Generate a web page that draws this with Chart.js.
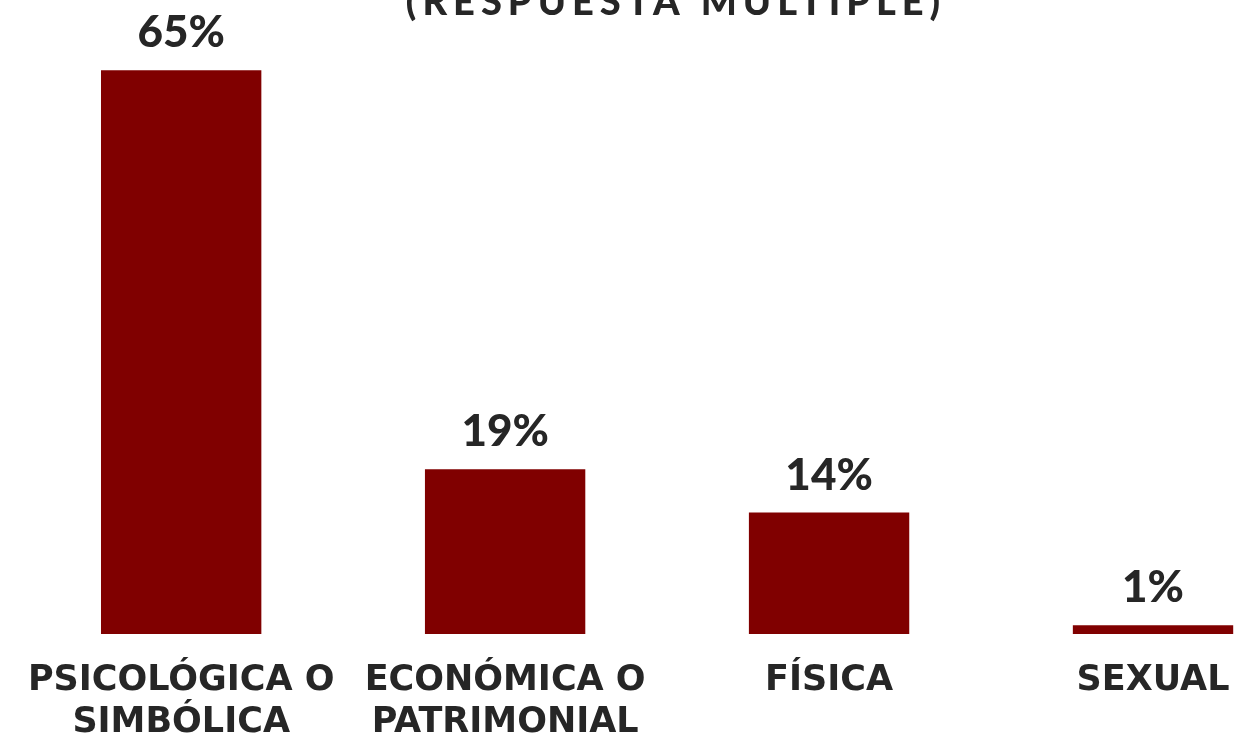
<!DOCTYPE html>
<html>
<head>
<meta charset="utf-8">
<script src="https://cdn.jsdelivr.net/npm/chart.js@4/dist/chart.umd.min.js"></script>
<style>
html,body{margin:0;padding:0;overflow:hidden;background:#fff;width:1243px;height:737px;}
#wrap{position:absolute;left:0;top:0;width:1320px;height:770px;}
</style>
</head>
<body>
<div id="wrap"><canvas id="c" width="1320" height="770"></canvas></div>
<script>
const titleText = "(RESPUESTA MÚLTIPLE)";
const categories = [["PSICOLÓGICA O","SIMBÓLICA"],["ECONÓMICA O","PATRIMONIAL"],"FÍSICA","SEXUAL"];
const values = [65, 19, 14, 1];
const barColor = "#800000";
const textColor = "#262626";
const fontFamily = "Lato, 'Open Sans', sans-serif";
const labelFamily = "'DejaVu Sans', sans-serif";

const topTitle = {
  id: 'topTitle',
  afterDraw(chart) {
    const ctx = chart.ctx;
    ctx.save();
    ctx.font = "900 38px " + fontFamily;
    ctx.fillStyle = textColor;
    ctx.textAlign = 'center';
    ctx.textBaseline = 'alphabetic';
    try { ctx.letterSpacing = '6px'; } catch(e) {}
    ctx.fillText(titleText, 676, 15);
    ctx.restore();
  }
};

const valueLabels = {
  id: 'valueLabels',
  afterDatasetsDraw(chart) {
    const ctx = chart.ctx;
    const meta = chart.getDatasetMeta(0);
    ctx.save();
    ctx.font = "900 44px " + fontFamily;
    ctx.fillStyle = textColor;
    ctx.textAlign = 'center';
    ctx.textBaseline = 'alphabetic';
    meta.data.forEach((bar, i) => {
      ctx.fillText(values[i] + '%', bar.x, bar.y - 23);
    });
    ctx.restore();
  }
};

new Chart(document.getElementById('c'), {
  type: 'bar',
  data: {
    labels: categories,
    datasets: [{
      data: values,
      backgroundColor: barColor,
      borderWidth: 0,
      categoryPercentage: 1,
      barPercentage: 0.495
    }]
  },
  options: {
    responsive: false,
    animation: false,
    layout: { padding: { left: 15, right: 5, top: 27, bottom: 0 } },
    plugins: { legend: { display: false }, tooltip: { enabled: false } },
    scales: {
      x: {
        grid: { display: false, drawTicks: false },
        border: { display: false },
        ticks: {
          color: textColor,
          font: { family: labelFamily, size: 35, weight: 'bold', lineHeight: 1.2 },
          padding: 26,
          autoSkip: false,
          maxRotation: 0,
          minRotation: 0
        }
      },
      y: {
        display: false,
        min: 0,
        max: 70
      }
    }
  },
  plugins: [topTitle, valueLabels]
});
</script>
</body>
</html>
